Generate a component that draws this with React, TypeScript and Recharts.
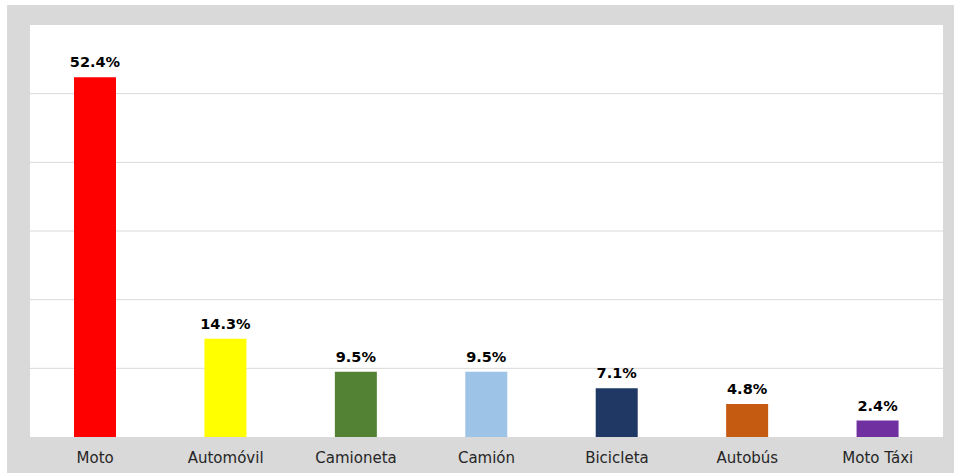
import { BarChart, Bar, XAxis, YAxis, CartesianGrid, Cell, LabelList } from "recharts";

const categories = ["Moto", "Automóvil", "Camioneta", "Camión", "Bicicleta", "Autobús", "Moto Táxi"];
const shares = [52.4, 14.3, 9.5, 9.5, 7.1, 4.8, 2.4];
const barColors = ["#ff0000", "#ffff00", "#548235", "#9dc3e6", "#203864", "#c55a11", "#7030a0"];
const yTicks = [0, 10, 20, 30, 40, 50, 60];

const data = categories.map((name, i) => ({ name, value: shares[i] }));

export default function App() {
  return (
    <div style={{ position: "absolute", left: 0, top: 0, width: 954, height: 473, background: "#fff" }}>
      <div style={{ position: "absolute", left: 7, top: 5, width: 947, height: 468, background: "#d9d9d9" }}>
        <BarChart
          width={947}
          height={468}
          data={data}
          margin={{ top: 20, right: 11, left: 23, bottom: 0 }}
          barCategoryGap={0}
        >
          <CartesianGrid vertical={false} fill="#ffffff" stroke="#d9d9d9" horizontalValues={[10, 20, 30, 40, 50]} />
          <XAxis
            dataKey="name"
            height={36}
            axisLine={false}
            tickLine={false}
            tickMargin={9}
            tick={{ fill: "#262626", fontSize: 15, fontFamily: "DejaVu Sans" }}
            interval={0}
          />
          <YAxis hide domain={[0, 60]} ticks={yTicks} />
          <Bar dataKey="value" barSize={42} isAnimationActive={false}>
            {data.map((d, i) => (
              <Cell key={d.name} fill={barColors[i]} />
            ))}
            <LabelList
              dataKey="value"
              position="top"
              offset={10}
              formatter={(v: number) => `${v.toFixed(1)}%`}
              style={{ fill: "#000", fontSize: 14.5, fontWeight: "bold", fontFamily: "DejaVu Sans" }}
            />
          </Bar>
        </BarChart>
      </div>
    </div>
  );
}
